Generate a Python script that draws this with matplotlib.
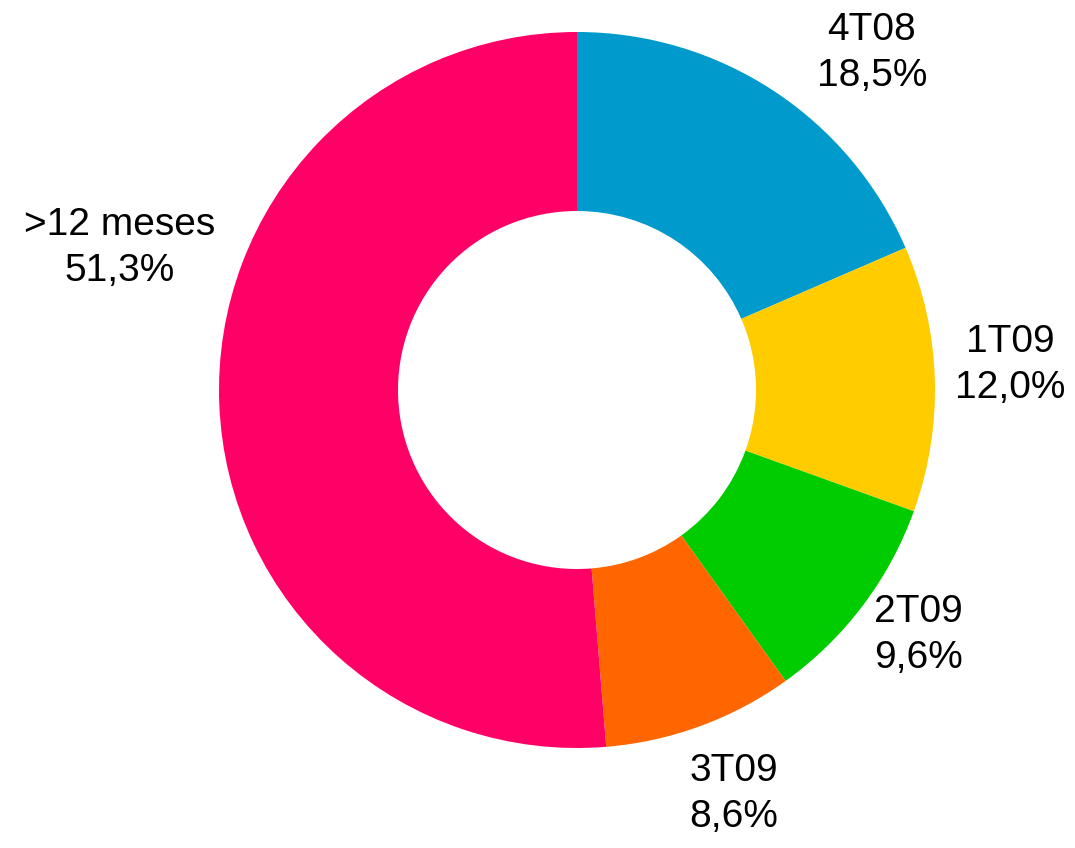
import matplotlib.pyplot as plt

# donut chart: distribution by quarter

categories = ['4T08', '1T09', '2T09', '3T09', '>12 meses']
values = [18.5, 12.0, 9.6, 8.6, 51.3]
pct_labels = ['18,5%', '12,0%', '9,6%', '8,6%', '51,3%']
colors = ['#009ACD', '#FFCC00', '#00CC00', '#FF6600', '#FF0066']

# label centres in pixel offsets from the pie centre (x right, y up)
label_offsets = [(295, 337), (433, 25), (341, -245), (157, -404), (-457, 142)]

W, H = 1075, 848
cx, cy, R = 577, 390, 358

plt.rcParams['font.family'] = ['Liberation Sans', 'DejaVu Sans']

fig = plt.figure(figsize=(W / 100, H / 100), dpi=100)
ax = fig.add_axes([0, 0, 1, 1])
ax.pie(values, colors=colors, startangle=90, counterclock=False, radius=1,
       wedgeprops=dict(width=0.5, linewidth=0))
ax.set_xlim(-cx / R, (W - cx) / R)
ax.set_ylim(-(H - cy) / R, cy / R)
ax.set_aspect('equal')
ax.axis('off')

for cat, pct, (dx, dy) in zip(categories, pct_labels, label_offsets):
    ax.text(dx / R, dy / R, f'{cat}\n{pct}', ha='center', va='center',
            multialignment='center', fontsize=28, linespacing=1.33, color='black')

fig.savefig('out.png', dpi=100)
